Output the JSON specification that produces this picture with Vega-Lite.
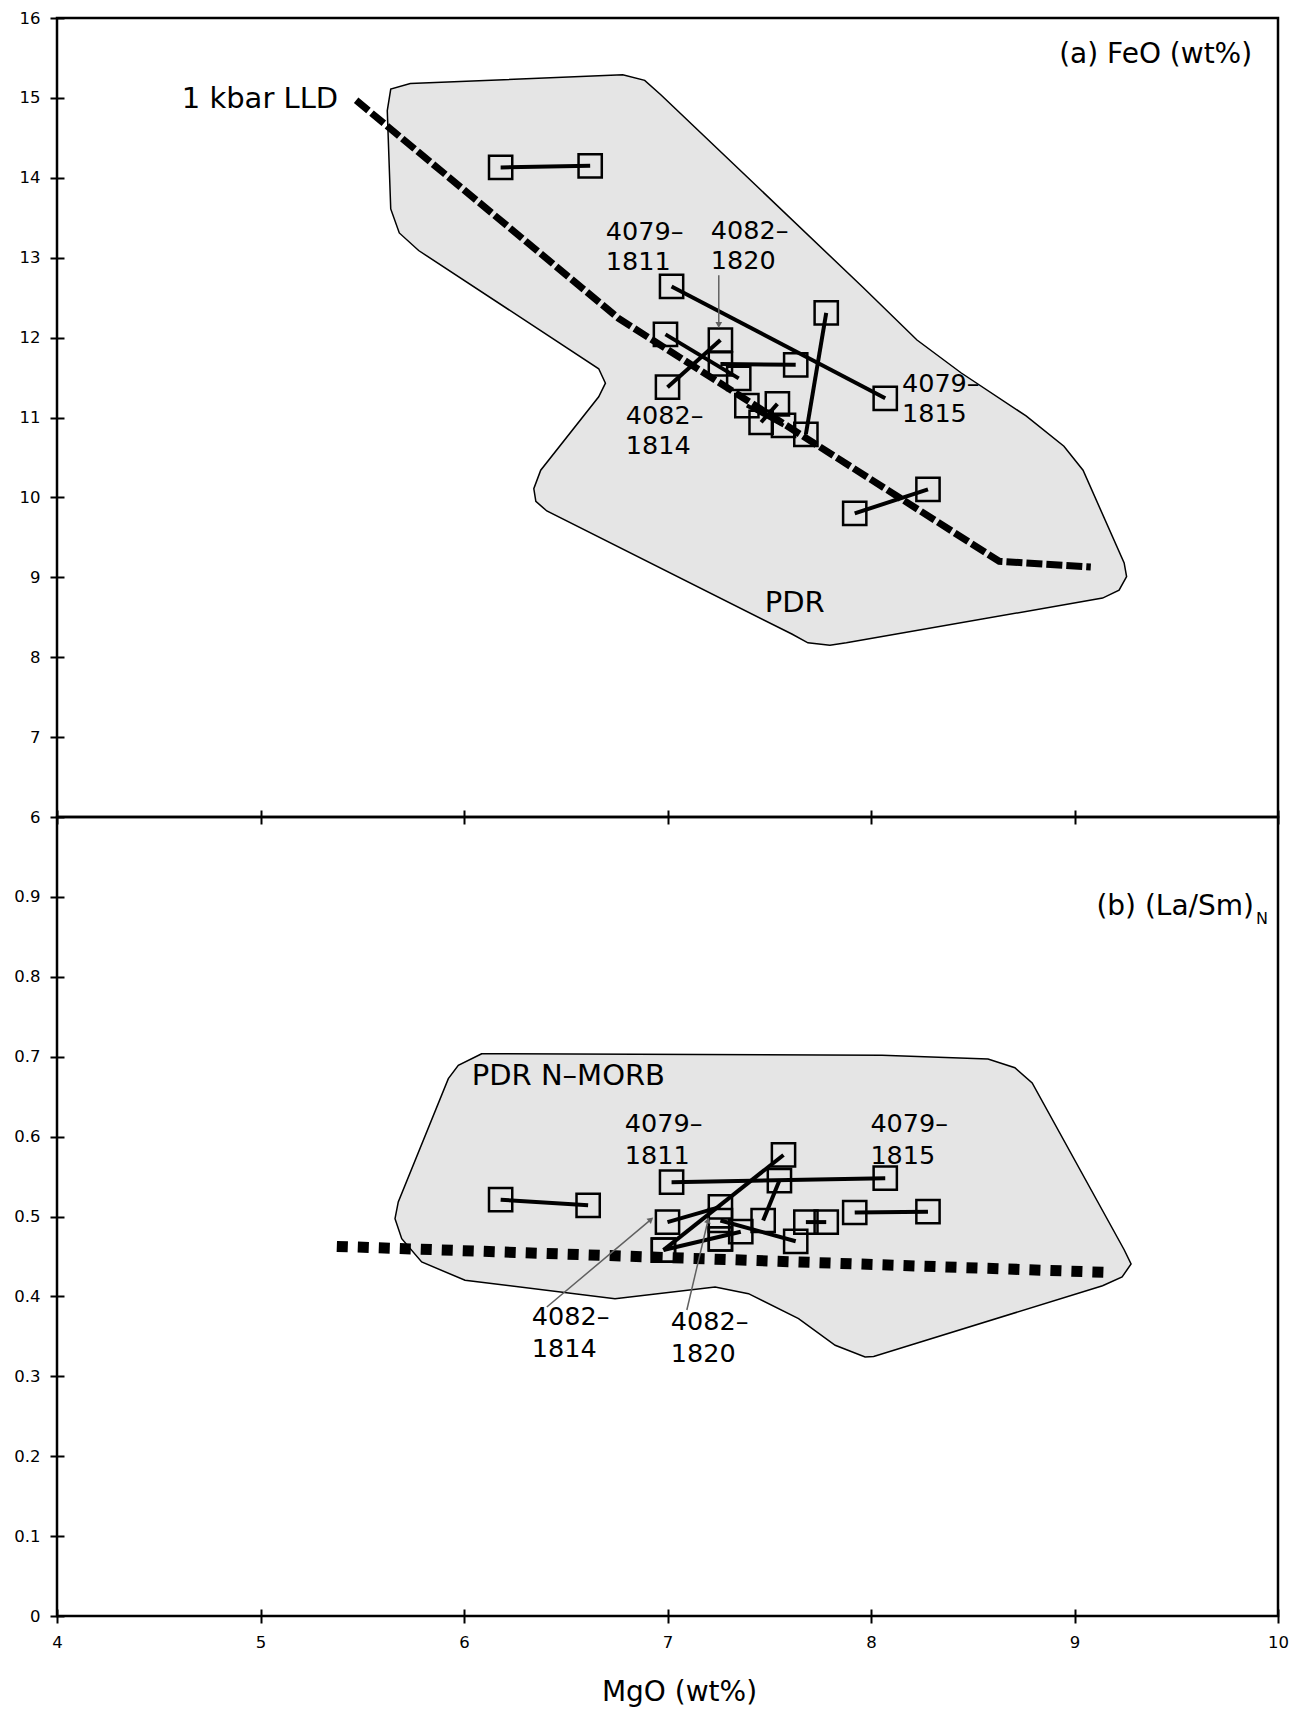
{
  "$schema": "https://vega.github.io/schema/vega-lite/v6.json",
  "background": "white",
  "padding": {"left": 12, "top": 8, "right": 10, "bottom": 0},
  "spacing": 0,
  "bounds": "flush",
  "config": {
    "font": "DejaVu Sans",
    "view": {"stroke": "black", "strokeWidth": 2.5},
    "axis": {"grid": false, "domain": false, "tickColor": "black", "tickWidth": 2, "tickSize": 14, "offset": -7, "labelFontSize": 16.5, "labelColor": "black", "labelFlush": false, "labelOverlap": false, "titleColor": "black", "titleFontWeight": "normal"},
    "concat": {"spacing": 0}
  },
  "datasets": {
    "pdrA": [
      {"o": 1, "x": 5.623, "y": 14.84}, {"o": 2, "x": 5.640, "y": 15.11}, {"o": 3, "x": 5.736, "y": 15.18}, {"o": 4, "x": 6.780, "y": 15.29},
      {"o": 5, "x": 6.888, "y": 15.22}, {"o": 6, "x": 6.967, "y": 15.04}, {"o": 7, "x": 7.960, "y": 12.63}, {"o": 8, "x": 8.226, "y": 11.97},
      {"o": 9, "x": 8.442, "y": 11.56}, {"o": 10, "x": 8.762, "y": 11.02}, {"o": 11, "x": 8.948, "y": 10.64}, {"o": 12, "x": 9.042, "y": 10.34},
      {"o": 13, "x": 9.244, "y": 9.18}, {"o": 14, "x": 9.256, "y": 9.01}, {"o": 15, "x": 9.219, "y": 8.84}, {"o": 16, "x": 9.138, "y": 8.74},
      {"o": 17, "x": 7.879, "y": 8.18}, {"o": 18, "x": 7.798, "y": 8.15}, {"o": 19, "x": 7.690, "y": 8.18}, {"o": 20, "x": 7.611, "y": 8.29},
      {"o": 21, "x": 6.407, "y": 9.83}, {"o": 22, "x": 6.353, "y": 9.95}, {"o": 23, "x": 6.343, "y": 10.11}, {"o": 24, "x": 6.377, "y": 10.34},
      {"o": 25, "x": 6.662, "y": 11.26}, {"o": 26, "x": 6.695, "y": 11.43}, {"o": 27, "x": 6.662, "y": 11.61}, {"o": 28, "x": 5.777, "y": 13.09},
      {"o": 29, "x": 5.682, "y": 13.31}, {"o": 30, "x": 5.640, "y": 13.61}
    ],
    "pdrB": [
      {"o": 1, "x": 6.087, "y": 0.7037}, {"o": 2, "x": 5.972, "y": 0.6892}, {"o": 3, "x": 5.923, "y": 0.6725}, {"o": 4, "x": 5.677, "y": 0.5182},
      {"o": 5, "x": 5.661, "y": 0.4973}, {"o": 6, "x": 5.694, "y": 0.4722}, {"o": 7, "x": 5.792, "y": 0.4431}, {"o": 8, "x": 6.005, "y": 0.4202},
      {"o": 9, "x": 6.742, "y": 0.3971}, {"o": 10, "x": 7.234, "y": 0.4118}, {"o": 11, "x": 7.398, "y": 0.4034}, {"o": 12, "x": 7.644, "y": 0.3721},
      {"o": 13, "x": 7.824, "y": 0.3388}, {"o": 14, "x": 7.971, "y": 0.3242}, {"o": 15, "x": 8.013, "y": 0.3248}, {"o": 16, "x": 9.138, "y": 0.4134},
      {"o": 17, "x": 9.234, "y": 0.4243}, {"o": 18, "x": 9.278, "y": 0.4406}, {"o": 19, "x": 9.244, "y": 0.4584}, {"o": 20, "x": 8.792, "y": 0.6671},
      {"o": 21, "x": 8.707, "y": 0.6862}, {"o": 22, "x": 8.575, "y": 0.6971}, {"o": 23, "x": 8.054, "y": 0.7017}
    ],
    "lld": [
      {"o": 1, "x": 5.47, "y": 14.97}, {"o": 2, "x": 6.76, "y": 12.24}, {"o": 3, "x": 8.63, "y": 9.2}, {"o": 4, "x": 9.08, "y": 9.13}
    ],
    "dots": [
      {"o": 1, "x": 5.375, "y": 0.4626}, {"o": 2, "x": 9.19, "y": 0.4298}
    ],
    "pairsA": [
      {"p": 1, "x": 6.18, "y": 14.13}, {"p": 1, "x": 6.62, "y": 14.15},
      {"p": 2, "x": 7.02, "y": 12.64}, {"p": 2, "x": 8.07, "y": 11.24},
      {"p": 3, "x": 6.99, "y": 12.04}, {"p": 3, "x": 7.35, "y": 11.49},
      {"p": 4, "x": 7.26, "y": 11.97}, {"p": 4, "x": 7.00, "y": 11.38},
      {"p": 5, "x": 7.26, "y": 11.67}, {"p": 5, "x": 7.63, "y": 11.66},
      {"p": 6, "x": 7.54, "y": 11.17}, {"p": 6, "x": 7.46, "y": 10.94},
      {"p": 7, "x": 7.78, "y": 12.31}, {"p": 7, "x": 7.68, "y": 10.79},
      {"p": 8, "x": 7.92, "y": 9.80}, {"p": 8, "x": 8.28, "y": 10.10},
      {"p": 9, "x": 7.39, "y": 11.15}, {"p": 9, "x": 7.57, "y": 10.90}
    ],
    "pairsB": [
      {"p": 1, "x": 6.18, "y": 0.521}, {"p": 1, "x": 6.61, "y": 0.514},
      {"p": 2, "x": 7.02, "y": 0.543}, {"p": 2, "x": 8.07, "y": 0.548},
      {"p": 3, "x": 7.57, "y": 0.577}, {"p": 3, "x": 6.98, "y": 0.458},
      {"p": 4, "x": 7.00, "y": 0.493}, {"p": 4, "x": 7.26, "y": 0.512},
      {"p": 5, "x": 6.98, "y": 0.458}, {"p": 5, "x": 7.36, "y": 0.481},
      {"p": 6, "x": 7.55, "y": 0.545}, {"p": 6, "x": 7.47, "y": 0.495},
      {"p": 7, "x": 7.68, "y": 0.493}, {"p": 7, "x": 7.78, "y": 0.493},
      {"p": 8, "x": 7.26, "y": 0.495}, {"p": 8, "x": 7.63, "y": 0.469},
      {"p": 9, "x": 7.92, "y": 0.505}, {"p": 9, "x": 8.28, "y": 0.506},
      {"p": 10, "x": 7.26, "y": 0.472}, {"p": 10, "x": 7.26, "y": 0.472}
    ],
    "labA": [
      {"t": "4079–\n1811", "x": 6.697, "y": 13.222},
      {"t": "4082–\n1820", "x": 7.213, "y": 13.234},
      {"t": "4082–\n1814", "x": 6.795, "y": 10.919},
      {"t": "4079–\n1815", "x": 8.152, "y": 11.319}
    ],
    "labB": [
      {"t": "4079–\n1811", "x": 6.79, "y": 0.6058},
      {"t": "4079–\n1815", "x": 7.997, "y": 0.6058},
      {"t": "4082–\n1814", "x": 6.333, "y": 0.3642},
      {"t": "4082–\n1820", "x": 7.016, "y": 0.358}
    ]
  },
  "vconcat": [
    {
      "width": 1221,
      "height": 799,
      "encoding": {
        "x": {"type": "quantitative", "scale": {"domain": [4, 10], "nice": false, "zero": false}, "axis": {"values": [4, 5, 6, 7, 8, 9, 10], "labels": false, "title": null}},
        "y": {"type": "quantitative", "scale": {"domain": [6, 16], "nice": false, "zero": false}, "axis": {"values": [6, 7, 8, 9, 10, 11, 12, 13, 14, 15, 16], "labelPadding": 10, "labelFontSize": 16.5, "title": null}}
      },
      "layer": [
        {
          "data": {"name": "pdrA"},
          "mark": {"type": "line", "interpolate": "linear-closed", "fill": "#e5e5e5", "stroke": "black", "strokeWidth": 1.5},
          "encoding": {"x": {"field": "x", "type": "quantitative"}, "y": {"field": "y", "type": "quantitative"}, "order": {"field": "o"}}
        },
        {
          "data": {"name": "lld"},
          "mark": {"type": "line", "stroke": "black", "strokeWidth": 7, "strokeDash": [16, 4], "strokeCap": "butt"},
          "encoding": {"x": {"field": "x", "type": "quantitative"}, "y": {"field": "y", "type": "quantitative"}, "order": {"field": "o"}}
        },
        {
          "data": {"name": "pairsA"},
          "mark": {"type": "point", "shape": "square", "size": 540, "filled": false, "stroke": "black", "strokeWidth": 2.5, "opacity": 1},
          "encoding": {"x": {"field": "x", "type": "quantitative"}, "y": {"field": "y", "type": "quantitative"}}
        },
        {
          "data": {"name": "pairsA"},
          "mark": {"type": "line", "stroke": "black", "strokeWidth": 4},
          "encoding": {"x": {"field": "x", "type": "quantitative"}, "y": {"field": "y", "type": "quantitative"}, "detail": {"field": "p"}}
        },
        {
          "data": {"values": [{"x": 7.252, "y": 12.78, "y2": 12.17}]},
          "mark": {"type": "rule", "stroke": "#606060", "strokeWidth": 1.5},
          "encoding": {"x": {"field": "x", "type": "quantitative"}, "y": {"field": "y", "type": "quantitative"}, "y2": {"field": "y2"}}
        },
        {
          "data": {"values": [{"x": 7.252, "y": 12.17}]},
          "mark": {"type": "point", "shape": "triangle", "angle": 180, "size": 45, "filled": true, "fill": "#606060", "opacity": 1},
          "encoding": {"x": {"field": "x", "type": "quantitative"}, "y": {"field": "y", "type": "quantitative"}}
        },
        {
          "data": {"name": "labA"},
          "mark": {"type": "text", "align": "left", "baseline": "alphabetic", "fontSize": 25.5, "lineBreak": "\n", "lineHeight": 30, "color": "black"},
          "encoding": {"x": {"field": "x", "type": "quantitative"}, "y": {"field": "y", "type": "quantitative"}, "text": {"field": "t"}}
        },
        {
          "data": {"values": [{"t": "1 kbar LLD", "x": 4.613, "y": 14.87}]},
          "mark": {"type": "text", "align": "left", "baseline": "alphabetic", "fontSize": 29, "color": "black"},
          "encoding": {"x": {"field": "x", "type": "quantitative"}, "y": {"field": "y", "type": "quantitative"}, "text": {"field": "t"}}
        },
        {
          "data": {"values": [{"t": "(a) FeO (wt%)", "x": 9.873, "y": 15.437}]},
          "mark": {"type": "text", "align": "right", "baseline": "alphabetic", "fontSize": 28, "color": "black"},
          "encoding": {"x": {"field": "x", "type": "quantitative"}, "y": {"field": "y", "type": "quantitative"}, "text": {"field": "t"}}
        },
        {
          "data": {"values": [{"t": "PDR", "x": 7.478, "y": 8.566}]},
          "mark": {"type": "text", "align": "left", "baseline": "alphabetic", "fontSize": 29, "color": "black"},
          "encoding": {"x": {"field": "x", "type": "quantitative"}, "y": {"field": "y", "type": "quantitative"}, "text": {"field": "t"}}
        }
      ]
    },
    {
      "width": 1221,
      "height": 799,
      "encoding": {
        "x": {"type": "quantitative", "scale": {"domain": [4, 10], "nice": false, "zero": false}, "axis": {"values": [4, 5, 6, 7, 8, 9, 10], "labelPadding": 11, "labelFontSize": 16.5, "title": "MgO (wt%)", "titleFontSize": 28, "titlePadding": 28, "titleX": 622, "titleAlign": "center", "titleFont": "DejaVu Sans"}},
        "y": {"type": "quantitative", "scale": {"domain": [0, 1], "nice": false, "zero": false}, "axis": {"values": [0, 0.1, 0.2, 0.3, 0.4, 0.5, 0.6, 0.7, 0.8, 0.9], "format": "~g", "labelPadding": 10, "labelFontSize": 16.5, "title": null}}
      },
      "layer": [
        {
          "data": {"name": "pdrB"},
          "mark": {"type": "line", "interpolate": "linear-closed", "fill": "#e5e5e5", "stroke": "black", "strokeWidth": 1.5},
          "encoding": {"x": {"field": "x", "type": "quantitative"}, "y": {"field": "y", "type": "quantitative"}, "order": {"field": "o"}}
        },
        {
          "data": {"name": "dots"},
          "mark": {"type": "line", "stroke": "black", "strokeWidth": 11, "strokeDash": [11, 10], "strokeCap": "butt"},
          "encoding": {"x": {"field": "x", "type": "quantitative"}, "y": {"field": "y", "type": "quantitative"}, "order": {"field": "o"}}
        },
        {
          "data": {"name": "pairsB"},
          "mark": {"type": "point", "shape": "square", "size": 540, "filled": false, "stroke": "black", "strokeWidth": 2.5, "opacity": 1},
          "encoding": {"x": {"field": "x", "type": "quantitative"}, "y": {"field": "y", "type": "quantitative"}}
        },
        {
          "data": {"name": "pairsB"},
          "mark": {"type": "line", "stroke": "black", "strokeWidth": 4},
          "encoding": {"x": {"field": "x", "type": "quantitative"}, "y": {"field": "y", "type": "quantitative"}, "detail": {"field": "p"}}
        },
        {
          "data": {"values": [{"x": 6.407, "y": 0.3867, "x2": 6.915, "y2": 0.4955}, {"x": 7.095, "y": 0.383, "x2": 7.198, "y2": 0.494}]},
          "mark": {"type": "rule", "stroke": "#606060", "strokeWidth": 1.5},
          "encoding": {"x": {"field": "x", "type": "quantitative"}, "y": {"field": "y", "type": "quantitative"}, "x2": {"field": "x2"}, "y2": {"field": "y2"}}
        },
        {
          "data": {"values": [{"x": 6.915, "y": 0.4955}]},
          "mark": {"type": "point", "shape": "triangle", "angle": 50, "size": 45, "filled": true, "fill": "#606060", "opacity": 1},
          "encoding": {"x": {"field": "x", "type": "quantitative"}, "y": {"field": "y", "type": "quantitative"}}
        },
        {
          "data": {"values": [{"x": 7.198, "y": 0.494}]},
          "mark": {"type": "point", "shape": "triangle", "angle": 14, "size": 45, "filled": true, "fill": "#606060", "opacity": 1},
          "encoding": {"x": {"field": "x", "type": "quantitative"}, "y": {"field": "y", "type": "quantitative"}}
        },
        {
          "data": {"name": "labB"},
          "mark": {"type": "text", "align": "left", "baseline": "alphabetic", "fontSize": 25.5, "lineBreak": "\n", "lineHeight": 32, "color": "black"},
          "encoding": {"x": {"field": "x", "type": "quantitative"}, "y": {"field": "y", "type": "quantitative"}, "text": {"field": "t"}}
        },
        {
          "data": {"values": [{"t": "PDR N–MORB", "x": 6.038, "y": 0.6646}]},
          "mark": {"type": "text", "align": "left", "baseline": "alphabetic", "fontSize": 29, "color": "black"},
          "encoding": {"x": {"field": "x", "type": "quantitative"}, "y": {"field": "y", "type": "quantitative"}, "text": {"field": "t"}}
        },
        {
          "data": {"values": [{"t": "(b) (La/Sm)", "x": 9.882, "y": 0.8773}]},
          "mark": {"type": "text", "align": "right", "baseline": "alphabetic", "fontSize": 28, "color": "black"},
          "encoding": {"x": {"field": "x", "type": "quantitative"}, "y": {"field": "y", "type": "quantitative"}, "text": {"field": "t"}}
        },
        {
          "data": {"values": [{"t": "N", "x": 9.892, "y": 0.8663}]},
          "mark": {"type": "text", "align": "left", "baseline": "alphabetic", "fontSize": 16, "color": "black"},
          "encoding": {"x": {"field": "x", "type": "quantitative"}, "y": {"field": "y", "type": "quantitative"}, "text": {"field": "t"}}
        }
      ]
    }
  ]
}
